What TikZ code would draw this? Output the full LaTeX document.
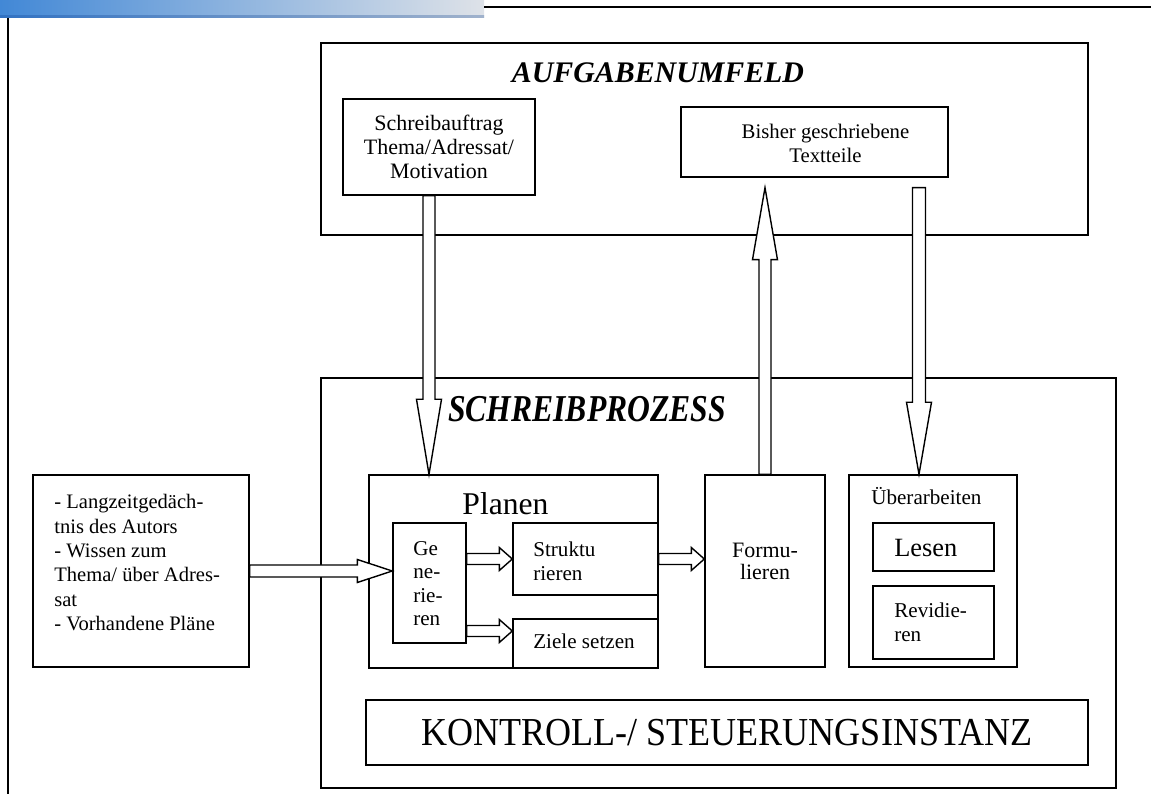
\documentclass[tikz,border=0pt]{standalone}
\usepackage{fontspec}
\usepackage{graphicx}
\setmainfont{Liberation Serif}
\usetikzlibrary{calc}

\definecolor{barleft}{RGB}{66,136,214}
\definecolor{barmid}{RGB}{142,182,224}
\definecolor{barright}{RGB}{222,226,232}
\definecolor{stripleft}{RGB}{50,114,194}
\definecolor{stripright}{RGB}{160,178,204}

\tikzset{
  box/.style={draw, line width=0.8pt, inner sep=0pt, align=center},
  txt/.style={inner sep=0pt, align=left, font=\fontsize{12}{13.2}\selectfont},
  hollow/.style={draw, fill=white, line width=0.8pt, line join=miter},
}

% block arrow: from, to, half shaft, half head, head length
\newcommand{\hollowarrow}[5]{%
  \draw[hollow] ($(#1)!#3!90:(#2)$)
    -- ($(#2)!#5!(#1)!#3!-90:(#1)$)
    -- ($(#2)!#5!(#1)!#4!-90:(#1)$)
    -- (#2)
    -- ($(#2)!#5!(#1)!#4!90:(#1)$)
    -- ($(#2)!#5!(#1)!#3!90:(#1)$)
    -- ($(#1)!#3!-90:(#2)$) -- cycle;}

\begin{document}
\begin{tikzpicture}
  \useasboundingbox (0,0) rectangle (23.02,-15.88);

  % page header
  \shade[left color=barleft, middle color=barmid, right color=barright] (0,0) rectangle (9.68,-0.36);
  \shade[left color=stripleft, right color=stripright] (0,-0.31) rectangle (9.68,-0.36);
  \draw[line width=0.85pt] (9.68,-0.14) -- (23.02,-0.14);
  \draw[line width=1pt] (0.16,-0.36) -- (0.16,-15.88);

  % outer frames
  \node[box, minimum width=15.34cm, minimum height=3.84cm] (au) at (14.09,-2.78) {};
  \node[box, minimum width=15.90cm, minimum height=8.20cm] (sp) at (14.37,-11.66) {};
  \node[anchor=base, inner sep=0pt, font=\fontsize{17}{20}\selectfont\bfseries\itshape] (autitle) at (13.16,-1.66) {AUFGABENUMFELD};
  \node[anchor=base, inner sep=0pt, font=\fontsize{18}{20}\selectfont\bfseries\itshape] (sptitle) at (11.74,-8.44) {\scalebox{1}[1.2]{SCHREIBPROZESS}};

  % task environment
  \node[box, minimum width=3.84cm, minimum height=1.92cm, font=\fontsize{12.5}{13.7}\selectfont] (sa) at (8.78,-2.94) {Schreibauftrag\\Thema/Adressat/\\Motivation};
  \node[box, minimum width=5.34cm, minimum height=1.40cm] (bt) at (16.29,-2.84) {};
  \node[txt, align=center, font=\fontsize{11.8}{13.7}\selectfont] (bttext) at (16.51,-2.86) {Bisher geschriebene\\Textteile};

  % long term memory
  \node[box, minimum width=4.32cm, minimum height=3.84cm] (lz) at (2.82,-11.42) {};
  \node[txt, anchor=north west, font=\fontsize{11.7}{13.9}\selectfont] (lztext) at (1.08,-9.88) {- Langzeitgedäch-\\tnis des Autors\\- Wissen zum\\Thema/ über Adres-\\sat\\- Vorhandene Pläne};

  % planning
  \node[box, minimum width=5.78cm, minimum height=3.86cm] (pl) at (10.27,-11.43) {};
  \node[anchor=base, inner sep=0pt, font=\fontsize{18}{20}\selectfont] (pltext) at (10.11,-10.30) {Planen};
  \node[box, minimum width=1.46cm, minimum height=2.40cm] (gen) at (8.59,-11.66) {};
  \node[txt, anchor=north west, font=\fontsize{12}{13.3}\selectfont] (gentext) at (8.26,-10.82) {Ge\\ne-\\rie-\\ren};
  \node[box, minimum width=2.90cm, minimum height=1.44cm] (st) at (11.71,-11.18) {};
  \node[txt, anchor=north west, font=\fontsize{12}{13.6}\selectfont] (sttext) at (10.66,-10.83) {Struktu\\rieren};
  \node[box, minimum width=2.90cm, minimum height=0.98cm] (zs) at (11.71,-12.87) {};
  \node[txt, anchor=base west] (zstext) at (10.66,-12.97) {Ziele setzen};

  % formulating
  \node[box, minimum width=2.40cm, minimum height=3.84cm] (fo) at (15.30,-11.42) {};
  \node[txt, align=center, font=\fontsize{12.5}{12.5}\selectfont] (fotext) at (15.30,-11.22) {Formu-\\lieren};

  % revising
  \node[box, minimum width=3.36cm, minimum height=3.84cm] (ub) at (18.66,-11.42) {};
  \node[txt, anchor=base west] (ubtext) at (17.42,-10.10) {Überarbeiten};
  \node[box, minimum width=2.42cm, minimum height=0.96cm] (le) at (18.67,-10.94) {};
  \node[txt, anchor=base west, font=\fontsize{15}{16}\selectfont] (letext) at (17.88,-11.14) {Lesen};
  \node[box, minimum width=2.42cm, minimum height=1.46cm] (rv) at (18.67,-12.45) {};
  \node[txt, anchor=north west, font=\fontsize{12}{13.1}\selectfont] (rvtext) at (17.88,-12.06) {Revidie-\\ren};

  % control
  \node[box, minimum width=14.44cm, minimum height=1.30cm, font=\fontsize{20.5}{22}\selectfont] (ks) at (14.54,-14.65) {\scalebox{1}[1.1]{KONTROLL-/ STEUERUNGSINSTANZ}};

  % arrow ends
  \coordinate (a1s) at ([xshift=-0.2cm]sa.south);
  \coordinate (a1e) at (a1s |- pl.north);
  \coordinate (a2e) at ([yshift=-0.2cm]bt.south -| fo.north);
  \coordinate (a3s) at ([xshift=2.09cm,yshift=-0.2cm]bt.south);
  \coordinate (a3e) at (a3s |- ub.north);
  \coordinate (a4e) at (gen.west |- lz.east);
  \coordinate (a5s) at (gen.east |- st.west);
  \coordinate (a6e) at ([yshift=0.25cm]zs.west);
  \coordinate (a6s) at (gen.east |- a6e);
  \coordinate (a7e) at (fo.west |- st.east);

  \hollowarrow{a1s}{a1e}{0.12cm}{0.25cm}{1.5cm}
  \hollowarrow{fo.north}{a2e}{0.12cm}{0.25cm}{1.44cm}
  \hollowarrow{a3s}{a3e}{0.13cm}{0.25cm}{1.44cm}
  \hollowarrow{lz.east}{a4e}{0.12cm}{0.23cm}{0.7cm}
  \hollowarrow{a5s}{st.west}{0.11cm}{0.23cm}{0.26cm}
  \hollowarrow{a6s}{a6e}{0.11cm}{0.23cm}{0.26cm}
  \hollowarrow{st.east}{a7e}{0.11cm}{0.23cm}{0.26cm}
\end{tikzpicture}
\end{document}
